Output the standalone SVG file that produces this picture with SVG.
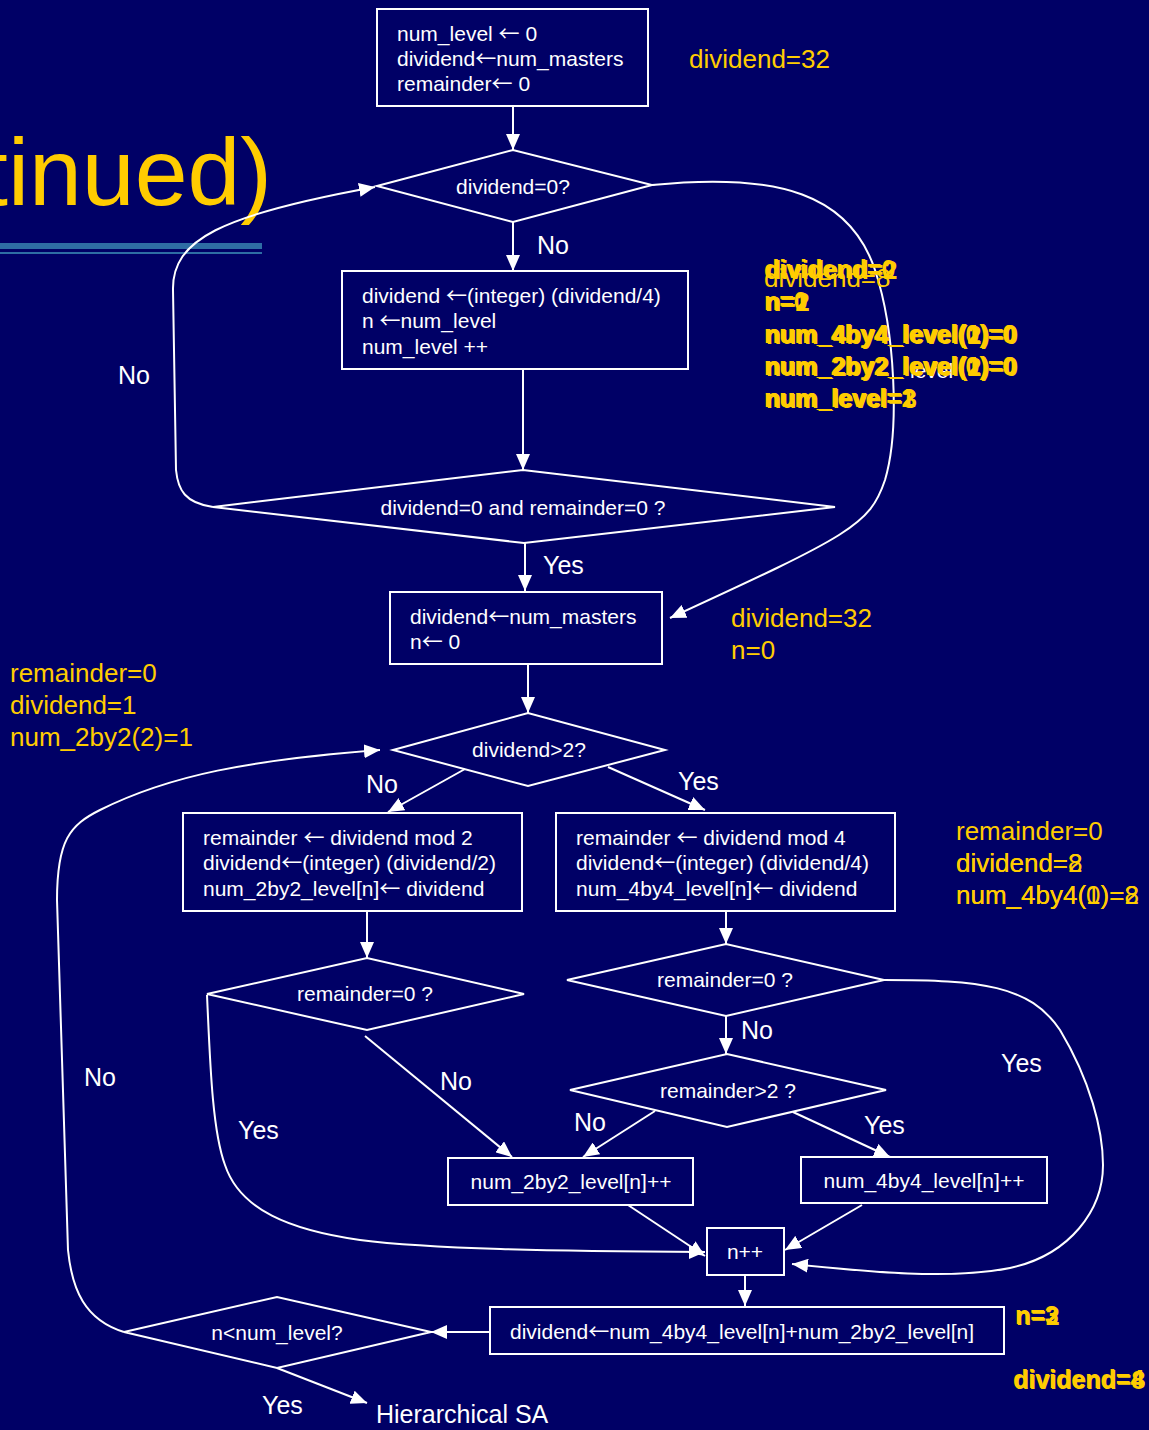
<svg xmlns="http://www.w3.org/2000/svg" width="1149" height="1430" viewBox="0 0 1149 1430">
  <defs>
    <marker id="ah" markerUnits="userSpaceOnUse" markerWidth="16" markerHeight="14" refX="16" refY="7" orient="auto">
      <path d="M0,0 L16,7 L0,14 z" fill="#ffffff"/>
    </marker>
    <style>
      .box { fill: none; stroke: #ffffff; stroke-width: 2; }
      .t { fill: #ffffff; font-family: "Liberation Sans", Arial, sans-serif; font-size: 21px; }
      .ar { font-family: "Noto Sans CJK SC", "DejaVu Sans", sans-serif; font-size: 21px; }
      .c { text-anchor: middle; }
      .lbl { fill: #ffffff; font-family: "Liberation Sans", Arial, sans-serif; font-size: 25px; }
      .y { fill: #ffcc00; font-family: "Liberation Sans", Arial, sans-serif; font-size: 26px; }
      .yb { fill: #ffcc00; font-family: "Liberation Sans", Arial, sans-serif; font-size: 25px; font-weight: bold; }
      .conn path { fill: none; stroke: #ffffff; stroke-width: 2; }
      .conn .a { marker-end: url(#ah); }
    </style>
  </defs>

  <rect x="0" y="0" width="1149" height="1430" fill="#000066"/>

  <!-- slide title remnant and rule -->
  <text x="272" y="205" fill="#ffcc00" font-family="Liberation Sans, Arial, sans-serif" font-size="95" text-anchor="end">tinued)</text>
  <rect x="0" y="243" width="262" height="6" fill="#2e6da4"/>
  <rect x="0" y="252" width="262" height="2" fill="#2e6da4"/>

  <!-- connectors -->
  <g id="connectors" class="conn">
    <path class="a" d="M513,106 V150"/>
    <path class="a" d="M513,222 V271"/>
    <path class="a" d="M523,369 V470"/>
    <path class="a" d="M525,543 V591"/>
    <path class="a" d="M652,185 C780,172 850,195 875,270 C895,330 900,430 885,480 C870,525 850,535 670,618"/>
    <path class="a" d="M213,507 C185,503 178,490 176,470 L173,290 C172,240 220,215 375,187"/>
    <path class="a" d="M528,664 V713"/>
    <path class="a" d="M465,769 L388,812"/>
    <path class="a" d="M608,767 L705,810"/>
    <path class="a" d="M726,911 V944"/>
    <path class="a" d="M367,911 V958"/>
    <path class="a" d="M726,1016 V1054"/>
    <path class="a" d="M655,1111 L583,1157"/>
    <path class="a" d="M793,1112 L890,1157"/>
    <path class="a" d="M365,1036 L512,1157"/>
    <path class="a" d="M207,995 C210,1060 212,1130 225,1165 C240,1210 290,1230 360,1240 C430,1249 550,1251 705,1252"/>
    <path class="a" d="M628,1205 L705,1256"/>
    <path class="a" d="M862,1205 L785,1250"/>
    <path class="a" d="M884,980 C980,980 1030,985 1060,1030 C1090,1080 1103,1130 1103,1165 C1103,1210 1070,1255 1010,1268 C950,1280 870,1272 792,1264"/>
    <path class="a" d="M745,1275 V1306"/>
    <path class="a" d="M490,1332 H431"/>
    <path class="a" d="M277,1368 L367,1403"/>
    <path class="a" d="M124,1332 C85,1320 72,1290 68,1250 L57,900 C57,840 70,825 100,810 C170,775 250,760 380,750"/>
  </g>

  <!-- branch labels -->
  <g id="labels">
    <text class="lbl" x="537" y="254">No</text>
    <text class="lbl" x="118" y="384">No</text>
    <text class="lbl" x="543" y="574">Yes</text>
    <text class="lbl" x="366" y="793">No</text>
    <text class="lbl" x="678" y="790">Yes</text>
    <text class="lbl" x="741" y="1039">No</text>
    <text class="lbl" x="1001" y="1072">Yes</text>
    <text class="lbl" x="574" y="1131">No</text>
    <text class="lbl" x="864" y="1134">Yes</text>
    <text class="lbl" x="440" y="1090">No</text>
    <text class="lbl" x="238" y="1139">Yes</text>
    <text class="lbl" x="84" y="1086">No</text>
    <text class="lbl" x="262" y="1414">Yes</text>
    <text class="lbl" x="376" y="1423" font-size="26">Hierarchical SA</text>
  </g>

  <!-- nodes -->
  <g id="init">
    <rect class="box" x="377" y="9" width="271" height="97"/>
    <text class="t" x="397" y="41">num_level <tspan class="ar">←</tspan> 0</text>
    <text class="t" x="397" y="66">dividend<tspan class="ar">←</tspan>num_masters</text>
    <text class="t" x="397" y="91">remainder<tspan class="ar">←</tspan> 0</text>
  </g>
  <g id="dividend-zero">
    <path class="box" d="M377,186 L513,150 L652,185 L513,222 z"/>
    <text class="t c" x="513" y="194">dividend=0?</text>
  </g>
  <g id="level-step">
    <rect class="box" x="342" y="271" width="346" height="98"/>
    <text class="t" x="362" y="303">dividend <tspan class="ar">←</tspan>(integer) (dividend/4)</text>
    <text class="t" x="362" y="328">n <tspan class="ar">←</tspan>num_level</text>
    <text class="t" x="362" y="354">num_level ++</text>
  </g>
  <g id="done-check">
    <path class="box" d="M213,507 L523,470 L835,507 L524,543 z"/>
    <text class="t c" x="523" y="515">dividend=0 and remainder=0 ?</text>
  </g>
  <g id="reset">
    <rect class="box" x="390" y="592" width="272" height="72"/>
    <text class="t" x="410" y="624">dividend<tspan class="ar">←</tspan>num_masters</text>
    <text class="t" x="410" y="649">n<tspan class="ar">←</tspan> 0</text>
  </g>
  <g id="dividend-gt2">
    <path class="box" d="M393,750 L528,713 L665,750 L528,786 z"/>
    <text class="t c" x="529" y="757">dividend&gt;2?</text>
  </g>
  <g id="split-2by2">
    <rect class="box" x="183" y="813" width="339" height="98"/>
    <text class="t" x="203" y="845">remainder <tspan class="ar">←</tspan> dividend mod 2</text>
    <text class="t" x="203" y="870">dividend<tspan class="ar">←</tspan>(integer) (dividend/2)</text>
    <text class="t" x="203" y="896">num_2by2_level[n]<tspan class="ar">←</tspan> dividend</text>
  </g>
  <g id="split-4by4">
    <rect class="box" x="556" y="813" width="339" height="98"/>
    <text class="t" x="576" y="845">remainder <tspan class="ar">←</tspan> dividend mod 4</text>
    <text class="t" x="576" y="870">dividend<tspan class="ar">←</tspan>(integer) (dividend/4)</text>
    <text class="t" x="576" y="896">num_4by4_level[n]<tspan class="ar">←</tspan> dividend</text>
  </g>
  <g id="rem-zero-left">
    <path class="box" d="M207,994 L367,958 L524,994 L367,1030 z"/>
    <text class="t c" x="365" y="1001">remainder=0 ?</text>
  </g>
  <g id="rem-zero-right">
    <path class="box" d="M567,980 L726,944 L884,980 L726,1016 z"/>
    <text class="t c" x="725" y="987">remainder=0 ?</text>
  </g>
  <g id="rem-gt2">
    <path class="box" d="M570,1090 L727,1054 L886,1090 L727,1127 z"/>
    <text class="t c" x="728" y="1098">remainder&gt;2 ?</text>
  </g>
  <g id="inc-2by2">
    <rect class="box" x="448" y="1158" width="245" height="47"/>
    <text class="t c" x="571" y="1189">num_2by2_level[n]++</text>
  </g>
  <g id="inc-4by4">
    <rect class="box" x="801" y="1157" width="246" height="46"/>
    <text class="t c" x="924" y="1188">num_4by4_level[n]++</text>
  </g>
  <g id="inc-n">
    <rect class="box" x="707" y="1228" width="77" height="47"/>
    <text class="t c" x="745" y="1259">n++</text>
  </g>
  <g id="sum-level">
    <rect class="box" x="490" y="1307" width="514" height="47"/>
    <text class="t" x="510" y="1339">dividend<tspan class="ar">←</tspan>num_4by4_level[n]+num_2by2_level[n]</text>
  </g>
  <g id="level-check">
    <path class="box" d="M124,1332 L277,1297 L431,1332 L277,1368 z"/>
    <text class="t c" x="277" y="1340">n&lt;num_level?</text>
  </g>

  <!-- traced values -->
  <g id="trace">
    <text class="y" x="689" y="68">dividend=32</text>

    <text class="t" x="910" y="378">level</text>
    <text class="y" x="764" y="287">dividend=8</text>
    <text class="yb" x="764" y="278">dividend=0</text>
    <text class="yb" x="766" y="279">dividend=2</text>
    <text class="yb" x="764" y="310">n=0</text>
    <text class="yb" x="765" y="311">n=1</text>
    <text class="yb" x="766" y="311">n=2</text>
    <text class="yb" x="764" y="343">num_4by4_level(0)=0</text>
    <text class="yb" x="765" y="343">num_4by4_level(1)=0</text>
    <text class="yb" x="766" y="344">num_4by4_level(2)=0</text>
    <text class="yb" x="764" y="375">num_2by2_level(0)=0</text>
    <text class="yb" x="765" y="375">num_2by2_level(1)=0</text>
    <text class="yb" x="766" y="376">num_2by2_level(2)=0</text>
    <text class="yb" x="764" y="407">num_level=1</text>
    <text class="yb" x="765" y="407">num_level=2</text>
    <text class="yb" x="766" y="408">num_level=3</text>

    <text class="y" x="731" y="627">dividend=32</text>
    <text class="y" x="731" y="659">n=0</text>

    <text class="y" x="10" y="682">remainder=0</text>
    <text class="y" x="10" y="714">dividend=1</text>
    <text class="y" x="10" y="746">num_2by2(2)=1</text>

    <text class="y" x="956" y="840">remainder=0</text>
    <text class="y" x="956" y="872">dividend=8</text>
    <text class="y" x="956" y="872">dividend=2</text>
    <text class="y" x="956" y="904">num_4by4(0)=8</text>
    <text class="y" x="956" y="904">num_4by4(1)=2</text>

    <text class="yb" x="1015" y="1324">n=3</text>
    <text class="yb" x="1016" y="1325">n=2</text>
    <text class="yb" x="1013" y="1388">dividend=4</text>
    <text class="yb" x="1014" y="1389">dividend=8</text>
  </g>
</svg>
